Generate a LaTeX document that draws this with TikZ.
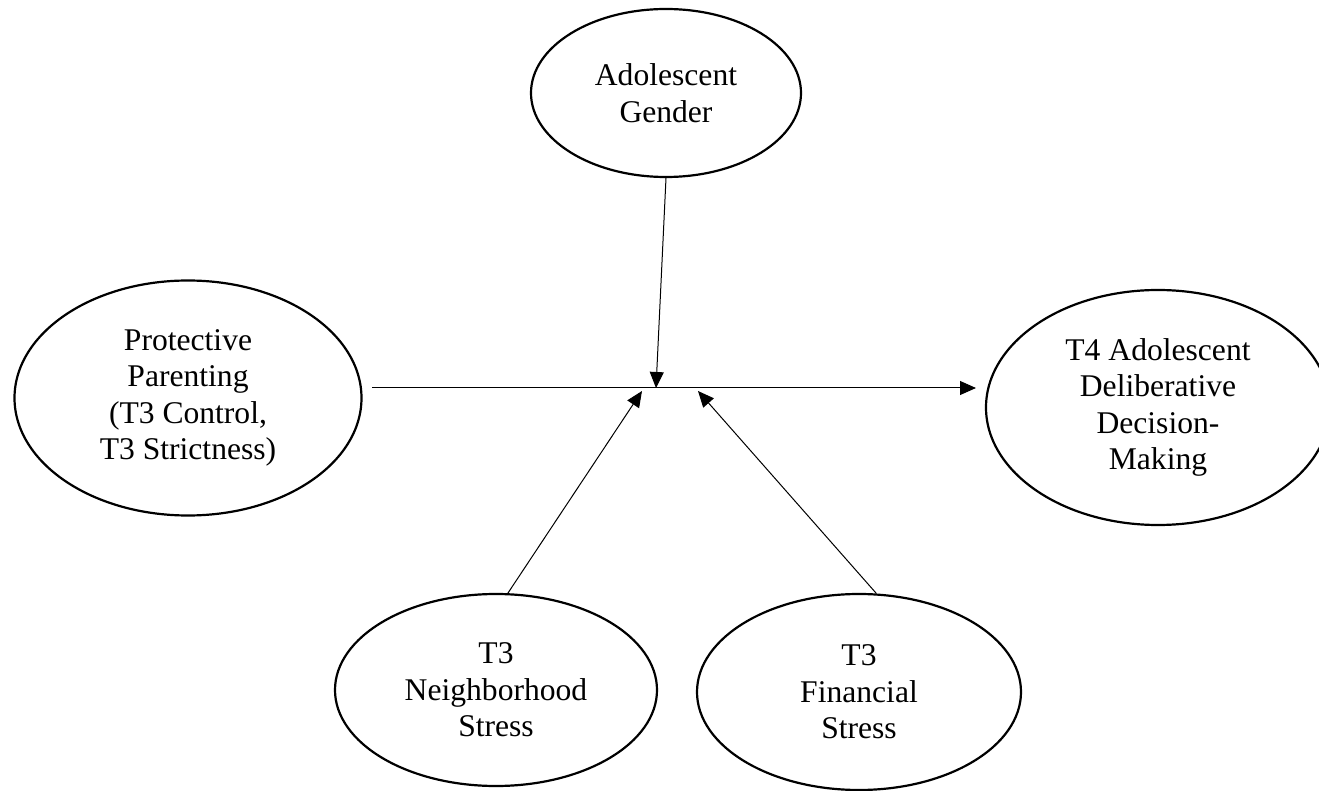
\documentclass[tikz,border=0pt]{standalone}
\usepackage{fontspec}
\setmainfont{Liberation Serif}
\usetikzlibrary{shapes.geometric,arrows.meta,positioning}

\begin{document}
\begin{tikzpicture}[
    x = 0.5pt,
    y = -0.5pt,
    construct/.style = {
        ellipse,
        draw = black,
        line width = 1.1pt,
        inner sep = 0pt,
        align = center,
        font = \fontsize{15.8}{18.25}\selectfont
    },
    arrow/.style = {
        -{Triangle[length = 8pt, width = 7pt]},
        line width = 0.5pt,
        black
    }
]
    \useasboundingbox (0,0) rectangle (1319,791);

    % Nodes
    \node [construct, minimum width = 135pt, minimum height = 84pt] (gender) at (666,93) {Adolescent\\Gender};
    \node [construct, minimum width = 173.5pt, minimum height = 117.5pt] (parenting) at (188,398) {Protective\\Parenting\\(T3 Control,\\T3 Strictness)};
    \node [construct, minimum width = 172pt, minimum height = 117.5pt] (decision) at (1158,407.5) {T4 Adolescent\\Deliberative\\Decision-\\Making};
    \node [construct, minimum width = 161pt, minimum height = 96pt] (neighbor) at (496,690) {T3\\Neighborhood\\Stress};
    \node [construct, minimum width = 162pt, minimum height = 98pt] (financial) at (859,692) {T3\\Financial\\Stress};

    % Free ends
    \coordinate (pathstart) at (372,388);
    \coordinate (pathend) at (976,388);
    \coordinate (tipgender) at (656,388);
    \coordinate (tipneighbor) at (642,391);
    \coordinate (tipfinancial) at (698,391);

    % Arrows
    \draw [arrow] (pathstart) -- (pathend);
    \draw [arrow] (gender.south) -- (tipgender);
    \draw [arrow] (neighbor.83.5) -- (tipneighbor);
    \draw [arrow] (financial.80.7) -- (tipfinancial);

\end{tikzpicture}
\end{document}
